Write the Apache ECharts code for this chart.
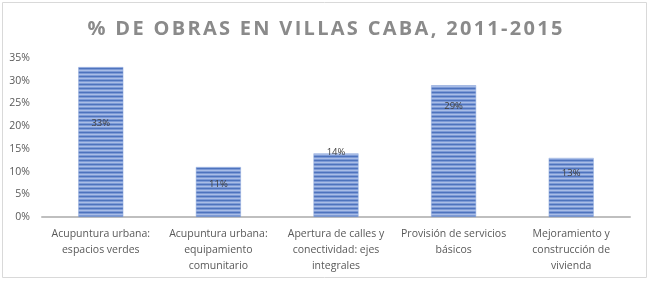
<!DOCTYPE html>
<html><head><meta charset="utf-8">
<script src="https://cdn.jsdelivr.net/npm/echarts@6/dist/echarts.min.js"></script>
<style>html,body{margin:0;padding:0;background:#fff}#c{width:650px;height:281px}</style>
</head><body><div id="c"></div>
<script>
const titleText = '% DE OBRAS EN VILLAS CABA, 2011-2015';
const categories = [
  'Acupuntura urbana:\nespacios verdes',
  'Acupuntura urbana:\nequipamiento\ncomunitario',
  'Apertura de calles y\nconectividad: ejes\nintegrales',
  'Provisión de servicios\nbásicos',
  'Mejoramiento y\nconstrucción de\nvivienda'
];
const values = [33, 11, 14, 29, 13];
const yTicks = [0, 5, 10, 15, 20, 25, 30, 35];
// label placement (px below bar top), styling only
const labelDrop = [56, 17, -1, 21, 15];

const pc = document.createElement('canvas');
pc.width = 4; pc.height = 4;
const g = pc.getContext('2d');
g.fillStyle = '#7d9ad6'; g.fillRect(0,0,4,4);
g.fillStyle = '#4e73bd'; g.fillRect(0,0,4,1);
g.fillStyle = '#a9bde6'; g.fillRect(0,2,4,1);

const spaced = titleText.split('').map(ch => '{c|' + ch + '}').join('');

const chart = echarts.init(document.getElementById('c'), null, {renderer:'canvas'});
chart.setOption({
  animation:false,
  title:{text:spaced,left:'center',top:14,
    textStyle:{fontFamily:'Open Sans',fontWeight:'bold',fontSize:20,color:'#8a8a8a',
      rich:{c:{fontFamily:'Open Sans',fontWeight:'bold',fontSize:20,color:'#8a8a8a',padding:[0,1.15]}}}},
  graphic:[{type:'rect',shape:{x:2.5,y:2.5,width:644,height:275},style:{fill:'none',stroke:'#d9d9d9',lineWidth:1},silent:true}],
  grid:{left:42,right:20,top:58,bottom:64},
  xAxis:{type:'category',data:categories,
    axisLine:{lineStyle:{color:'#bfbfbf',width:2}},axisTick:{show:false},
    axisLabel:{interval:0,color:'#595959',fontFamily:'Open Sans',fontSize:10.5,lineHeight:16,margin:9}},
  yAxis:{type:'value',min:yTicks[0],max:yTicks[yTicks.length-1],interval:5,
    axisLine:{show:false},axisTick:{show:false},splitLine:{show:false},
    axisLabel:{formatter:v=>v+'%',color:'#595959',fontFamily:'Open Sans',fontSize:10.5,margin:12}},
  series:[{type:'bar',barWidth:45,
    data:values.map((v,i)=>({value:v,label:{position:['50%',labelDrop[i]]}})),
    itemStyle:{color:{image:pc,repeat:'repeat'},borderColor:'#8fa8dc',borderWidth:0.5},
    label:{show:true,formatter:p=>p.value+'%',align:'center',verticalAlign:'middle',color:'#404040',fontFamily:'Open Sans',fontSize:9.5}}]
});
</script></body></html>
